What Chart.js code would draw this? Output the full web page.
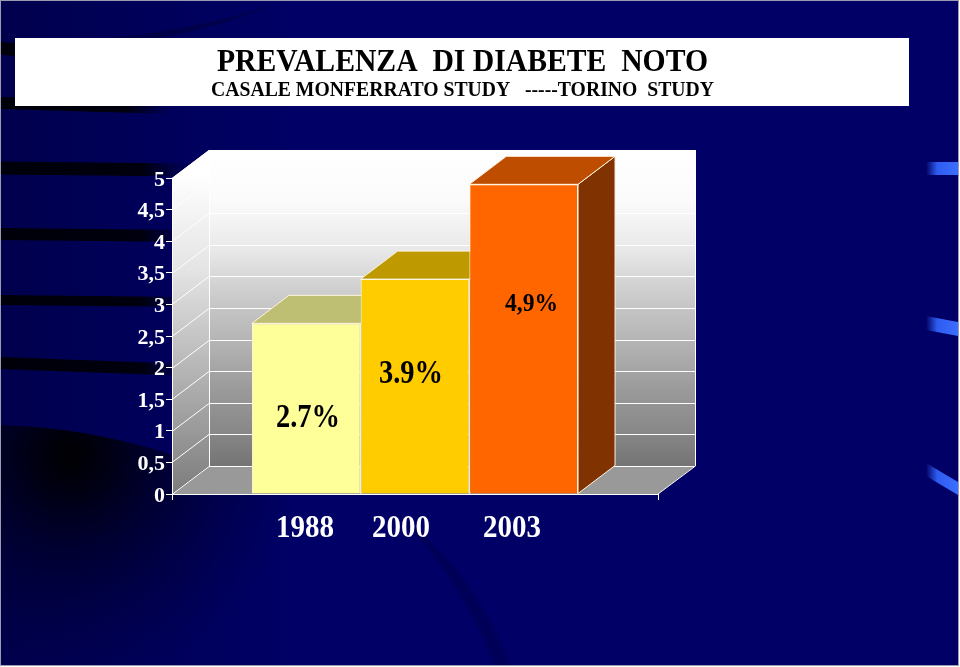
<!DOCTYPE html>
<html><head><meta charset="utf-8">
<style>html,body{margin:0;padding:0;background:#fff}canvas{display:block}</style>
<script src="https://cdn.jsdelivr.net/npm/chart.js@4"></script></head>
<body><div style="width:960px;height:667px"><canvas id="c" width="960" height="667"></canvas></div>
<script>
const years = ['1988', '2000', '2003'];
const values = [2.7, 3.4, 4.9];
const valueLabels = ['2.7%', '3.9%', '4,9%'];
const titleText = 'PREVALENZA  DI DIABETE  NOTO';
const subtitleText = 'CASALE MONFERRATO STUDY   -----TORINO  STUDY';
const frontColors = ['#FFFF99', '#FFCC00', '#FF6600'];
const topColors = ['#BFBF73', '#BF9900', '#BF4D00'];
const sideColors = ['#808033', '#806600', '#803300'];
const DX = 37, DY = -28;
const serif = '"Liberation Serif","Times New Roman",serif';

function quad(ctx, pts, fill, stroke) {
  ctx.beginPath();
  pts.forEach((p, i) => i ? ctx.lineTo(p[0], p[1]) : ctx.moveTo(p[0], p[1]));
  ctx.closePath();
  if (fill) { ctx.fillStyle = fill; ctx.fill(); }
  if (stroke) { ctx.strokeStyle = stroke; ctx.lineWidth = 1; ctx.stroke(); }
}

function streak(ctx, y0, y1, w, endX) {
  const g = ctx.createLinearGradient(0, 0, endX, 0);
  g.addColorStop(0, 'rgba(0,0,10,1)');
  g.addColorStop(0.75, 'rgba(0,0,10,0.95)');
  g.addColorStop(1, 'rgba(0,0,30,0)');
  ctx.beginPath();
  ctx.moveTo(0, y0 - w / 2);
  ctx.lineTo(endX, y1 - w / 2);
  ctx.lineTo(endX, y1 + w / 2);
  ctx.lineTo(0, y0 + w / 2);
  ctx.closePath();
  ctx.fillStyle = g;
  ctx.fill();
}

function blueMark(ctx, pts) {
  const g = ctx.createLinearGradient(926, 0, 958, 0);
  g.addColorStop(0, 'rgba(51,102,255,0)');
  g.addColorStop(0.35, 'rgba(51,102,255,0.9)');
  g.addColorStop(1, 'rgba(60,110,255,1)');
  quad(ctx, pts, g);
}

const decor = {
  id: 'decor',
  beforeDraw(chart) {
    const ctx = chart.ctx;
    ctx.save();
    ctx.fillStyle = '#000066';
    ctx.fillRect(0, 0, 960, 667);
    let g = ctx.createLinearGradient(0, 0, 300, 0);
    g.addColorStop(0, 'rgba(0,0,40,0.4)');
    g.addColorStop(1, 'rgba(0,0,40,0)');
    ctx.fillStyle = g;
    ctx.fillRect(0, 0, 300, 667);
    // streaks on the left
    streak(ctx, 103, 108, 12, 170);
    streak(ctx, 48, 50, 13, 18);
    streak(ctx, 168, 170, 13, 190);
    streak(ctx, 234, 236, 12, 190);
    streak(ctx, 300, 302, 10, 190);
    streak(ctx, 363, 370, 12, 190);
    // swoosh at top
    ctx.beginPath();
    ctx.moveTo(270, 5);
    ctx.quadraticCurveTo(200, 30, 90, 40);
    ctx.lineTo(150, 40);
    ctx.quadraticCurveTo(230, 25, 270, 5);
    ctx.fillStyle = 'rgba(0,0,40,0.35)';
    ctx.fill();
    // dark mass bottom-left
    g = ctx.createRadialGradient(70, 455, 10, 70, 455, 230);
    g.addColorStop(0, 'rgba(0,0,5,1)');
    g.addColorStop(0.15, 'rgba(0,0,15,0.9)');
    g.addColorStop(0.35, 'rgba(0,0,30,0.7)');
    g.addColorStop(0.7, 'rgba(0,0,50,0.35)');
    g.addColorStop(1, 'rgba(0,0,60,0)');
    ctx.fillStyle = g;
    ctx.beginPath();
    ctx.moveTo(0, 425);
    ctx.quadraticCurveTo(120, 428, 240, 480);
    ctx.quadraticCurveTo(420, 540, 520, 665);
    ctx.lineTo(0, 665);
    ctx.closePath();
    ctx.fill();
    // swoosh bottom
    ctx.beginPath();
    ctx.moveTo(390, 510);
    ctx.quadraticCurveTo(470, 560, 510, 665);
    ctx.lineTo(495, 665);
    ctx.quadraticCurveTo(450, 560, 390, 510);
    ctx.fillStyle = 'rgba(0,0,40,0.2)';
    ctx.fill();
    blueMark(ctx, [[926, 162], [958, 162], [958, 175], [926, 175]]);
    blueMark(ctx, [[926, 316], [958, 322], [958, 336], [926, 330]]);
    blueMark(ctx, [[926, 463], [958, 482], [958, 495], [926, 476]]);
    // page edge
    ctx.strokeStyle = '#9a9ab0';
    ctx.lineWidth = 1;
    ctx.strokeRect(0.5, 0.5, 958, 665);
    ctx.fillStyle = '#fff';
    ctx.fillRect(959, 0, 1, 667);
    ctx.fillRect(0, 666, 960, 1);
    // title box
    ctx.fillStyle = '#fff';
    ctx.fillRect(15, 38, 894, 68);
    ctx.fillStyle = '#000';
    ctx.textAlign = 'left';
    ctx.textBaseline = 'alphabetic';
    ctx.font = 'bold 31px ' + serif;
    ctx.fillText(titleText, 217, 71, 491);
    ctx.font = 'bold 22px ' + serif;
    ctx.fillText(subtitleText, 211, 96, 503);
    ctx.restore();
  },
  beforeDatasetsDraw(chart) {
    const ctx = chart.ctx, a = chart.chartArea, y = chart.scales.y;
    const L = a.left, R = a.right, T = a.top, B = a.bottom;
    ctx.save();
    let g = ctx.createLinearGradient(0, T + DY, 0, B + DY);
    g.addColorStop(0, '#ffffff');
    g.addColorStop(0.16, '#fbfbfb');
    g.addColorStop(0.32, '#e8e8e8');
    g.addColorStop(0.44, '#cfcfcf');
    g.addColorStop(0.6, '#b5b5b5');
    g.addColorStop(0.76, '#9a9a9a');
    g.addColorStop(0.89, '#888888');
    g.addColorStop(1, '#747474');
    quad(ctx, [[L + DX, T + DY], [R + DX, T + DY], [R + DX, B + DY], [L + DX, B + DY]], g);
    g = ctx.createLinearGradient(0, T - 5, 0, B);
    g.addColorStop(0, '#ffffff');
    g.addColorStop(0.3, '#e4e4e4');
    g.addColorStop(1, '#7c7c7c');
    quad(ctx, [[L, T], [L + DX, T + DY], [L + DX, B + DY], [L, B]], g);
    quad(ctx, [[L, B], [L + DX, B + DY], [R + DX, B + DY], [R, B]], '#999999');
    ctx.strokeStyle = '#ffffff';
    ctx.lineWidth = 1;
    y.ticks.forEach(t => {
      const py = Math.round(y.getPixelForValue(t.value)) + 0.5;
      ctx.beginPath();
      ctx.moveTo(L, py);
      ctx.lineTo(L + DX, py + DY);
      ctx.lineTo(R + DX, py + DY);
      ctx.stroke();
    });
    ctx.beginPath();
    ctx.moveTo(L + DX + 0.5, T + DY);
    ctx.lineTo(L + DX + 0.5, B + DY);
    ctx.moveTo(R + DX + 0.5, T + DY);
    ctx.lineTo(R + DX + 0.5, B + DY);
    ctx.lineTo(R, B);
    ctx.moveTo(L + 0.5, T);
    ctx.lineTo(L + 0.5, B);
    ctx.stroke();
    // bar extrusions, left to right; the library's bars are drawn over them
    chart.data.datasets.forEach((ds, i) => {
      const el = chart.getDatasetMeta(i).data[0];
      const { x, y: top, base, width } = el.getProps(['x', 'y', 'base', 'width'], true);
      const l = x - width / 2, r = x + width / 2;
      quad(ctx, [[r, top], [r + DX, top + DY], [r + DX, base + DY], [r, base]], sideColors[i], '#fff3e0');
      quad(ctx, [[l, top], [l + DX, top + DY], [r + DX, top + DY], [r, top]], topColors[i], '#fff3e0');
    });
    ctx.restore();
  },
  afterDatasetsDraw(chart) {
    const ctx = chart.ctx;
    ctx.save();
    ctx.textBaseline = 'alphabetic';
    ctx.textAlign = 'center';
    ctx.fillStyle = '#000';
    const labelPos = [[308, 427, 33, 64], [411, 383, 33, 64], [531.5, 311, 25, 53]];
    valueLabels.forEach((s, i) => {
      ctx.font = 'bold ' + labelPos[i][2] + 'px ' + serif;
      ctx.fillText(s, labelPos[i][0], labelPos[i][1], labelPos[i][3]);
    });
    ctx.fillStyle = '#fff';
    ctx.font = 'bold 31px ' + serif;
    const yearX = [305, 401, 512];
    years.forEach((s, i) => ctx.fillText(s, yearX[i], 537, 58));
    ctx.restore();
  }
};

new Chart(document.getElementById('c'), {
  type: 'bar',
  data: {
    labels: [''],
    datasets: years.map((yr, i) => ({
      label: yr,
      data: [values[i]],
      backgroundColor: frontColors[i],
      borderColor: '#fff8e0',
      borderWidth: 1
    }))
  },
  plugins: [decor],
  options: {
    responsive: false,
    animation: false,
    layout: { padding: { left: 0, right: 302, top: 178, bottom: 167 } },
    plugins: { legend: { display: false }, title: { display: false }, tooltip: { enabled: false } },
    scales: {
      x: {
        grid: { drawOnChartArea: false, color: '#ffffff', tickLength: 6, offset: true },
        border: { color: '#ffffff' },
        ticks: { display: false }
      },
      y: {
        min: 0, max: 5,
        afterFit(s) { s.width = 172; },
        grid: { drawOnChartArea: false, color: '#ffffff', tickLength: 6 },
        border: { color: '#ffffff' },
        ticks: {
          stepSize: 0.5, color: '#ffffff', padding: 1, labelOffset: 2,
          font: { family: serif, weight: 'bold', size: 22 },
          callback: v => String(v).replace('.', ',')
        }
      }
    },
    datasets: { bar: { categoryPercentage: 0.671, barPercentage: 1 } }
  }
});
</script></body></html>
